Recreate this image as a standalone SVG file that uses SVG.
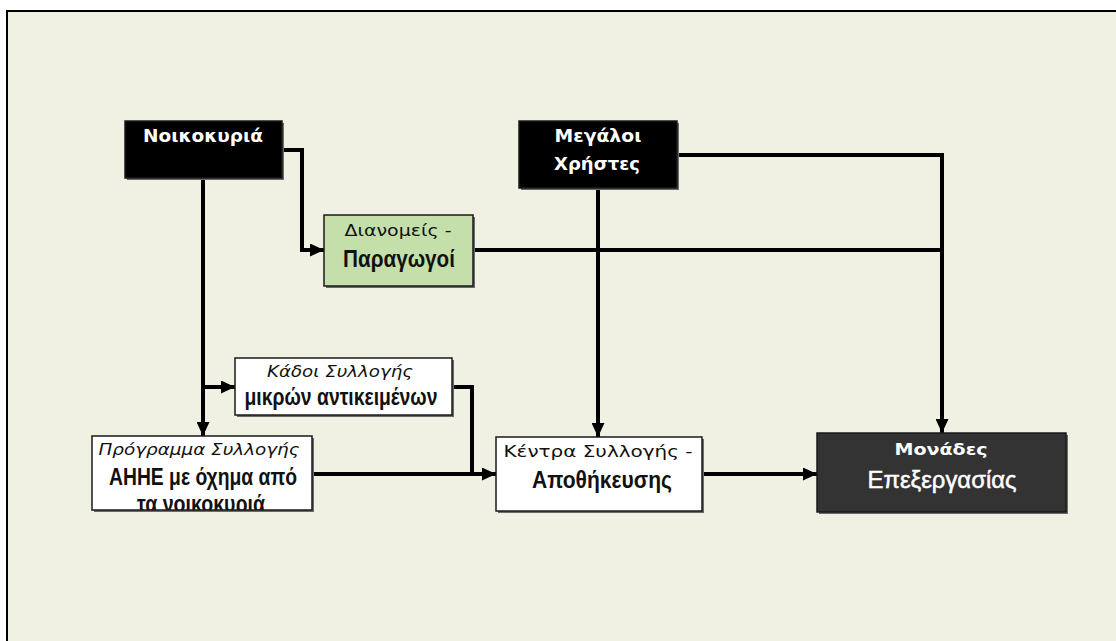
<svg xmlns="http://www.w3.org/2000/svg" width="1116" height="641" viewBox="0 0 1116 641">
  <style>
    .box { stroke: #1a1a1a; stroke-width: 1.5; }
    .shadow { fill: #6b6b6b; }
    .conn { fill: none; stroke: #000; stroke-width: 4; }
    .v { font-family: "DejaVu Sans", Verdana, sans-serif; }
    .a { font-family: "Liberation Sans", Arial, sans-serif; font-weight: bold; }
    .w { fill: #fff; }
    .k { fill: #111; }
  </style>
  <defs>
    <marker id="arr" markerUnits="userSpaceOnUse" markerWidth="14" markerHeight="13" refX="14" refY="6.5" orient="auto">
      <path d="M0,0 L14,6.5 L0,13 Z" fill="#000"/>
    </marker>
    <clipPath id="clipProg"><rect x="92" y="436" width="220" height="74"/></clipPath>
  </defs>

  <rect x="0" y="0" width="1116" height="641" fill="#ffffff"/>
  <rect x="7" y="11" width="1130" height="650" fill="#F1F1E3" stroke="#000" stroke-width="2"/>

  <g id="connectors">
    <path class="conn" d="M282,150 H302 V250 H324" marker-end="url(#arr)"/>
    <path class="conn" d="M203,178 V436" marker-end="url(#arr)"/>
    <path class="conn" d="M203,387 H235" marker-end="url(#arr)"/>
    <path class="conn" d="M452,387 H472 V474"/>
    <path class="conn" d="M312,474 H496" marker-end="url(#arr)"/>
    <path class="conn" d="M598,188 V437" marker-end="url(#arr)"/>
    <path class="conn" d="M677,155 H942 V433" marker-end="url(#arr)"/>
    <path class="conn" d="M473,250 H942"/>
    <path class="conn" d="M702,474 H817" marker-end="url(#arr)"/>
  </g>

  <g id="noikokyria">
    <rect class="shadow" x="127" y="123" width="157" height="57"/>
    <rect class="box" x="125" y="121" width="157" height="57" fill="#000"/>
    <text class="v w" x="203" y="142" font-size="17" font-weight="bold" text-anchor="middle" textLength="120" lengthAdjust="spacingAndGlyphs">Νοικοκυριά</text>
  </g>

  <g id="megaloi">
    <rect class="shadow" x="521" y="123" width="158" height="67"/>
    <rect class="box" x="519" y="121" width="158" height="67" fill="#000"/>
    <text class="v w" x="598" y="142" font-size="17" font-weight="bold" text-anchor="middle" textLength="87" lengthAdjust="spacingAndGlyphs">Μεγάλοι</text>
    <text class="v w" x="597" y="170" font-size="17" font-weight="bold" text-anchor="middle" textLength="86" lengthAdjust="spacingAndGlyphs">Χρήστες</text>
  </g>

  <g id="dianomeis">
    <rect class="shadow" x="326" y="217" width="149" height="71"/>
    <rect class="box" x="324" y="215" width="149" height="71" fill="#C4DFAA"/>
    <text class="v k" x="398" y="236" font-size="15" text-anchor="middle" textLength="107" lengthAdjust="spacingAndGlyphs">Διανομείς -</text>
    <text class="a k" x="399" y="267" font-size="24" text-anchor="middle" textLength="112" lengthAdjust="spacingAndGlyphs">Παραγωγοί</text>
  </g>

  <g id="kadoi">
    <rect class="shadow" x="237" y="360" width="217" height="57"/>
    <rect class="box" x="235" y="358" width="217" height="57" fill="#fff"/>
    <text class="v k" x="340" y="377" font-size="15" font-style="italic" text-anchor="middle" textLength="146" lengthAdjust="spacingAndGlyphs">Κάδοι Συλλογής</text>
    <text class="a k" x="341" y="405" font-size="23" text-anchor="middle" textLength="193" lengthAdjust="spacingAndGlyphs">μικρών αντικειμένων</text>
  </g>

  <g id="programma">
    <rect class="shadow" x="94" y="438" width="220" height="74"/>
    <rect x="92" y="436" width="220" height="74" fill="#fff"/>
    <g clip-path="url(#clipProg)">
      <text class="v k" x="199" y="455" font-size="15" font-style="italic" text-anchor="middle" textLength="201" lengthAdjust="spacingAndGlyphs">Πρόγραμμα Συλλογής</text>
      <text class="a k" x="203" y="485" font-size="23" text-anchor="middle" textLength="188" lengthAdjust="spacingAndGlyphs">ΑΗΗΕ με όχημα από</text>
      <text class="a k" x="201" y="512" font-size="23" text-anchor="middle" textLength="128" lengthAdjust="spacingAndGlyphs">τα νοικοκυριά</text>
    </g>
    <rect class="box" x="92" y="436" width="220" height="74" fill="none"/>
  </g>

  <g id="kentra">
    <rect class="shadow" x="498" y="439" width="206" height="74"/>
    <rect class="box" x="496" y="437" width="206" height="74" fill="#fff"/>
    <text class="v k" x="598" y="457" font-size="15" text-anchor="middle" textLength="189" lengthAdjust="spacingAndGlyphs">Κέντρα Συλλογής -</text>
    <text class="a k" x="602" y="488" font-size="23" text-anchor="middle" textLength="140" lengthAdjust="spacingAndGlyphs">Αποθήκευσης</text>
  </g>

  <g id="monades">
    <rect class="shadow" x="819" y="435" width="249" height="79"/>
    <rect class="box" x="817" y="433" width="249" height="79" fill="#333333"/>
    <text class="v w" x="941" y="455" font-size="16" font-weight="bold" text-anchor="middle" textLength="93" lengthAdjust="spacingAndGlyphs">Μονάδες</text>
    <text class="w" x="942" y="488" font-size="24" font-family="Liberation Sans, Arial, sans-serif" stroke="#fff" stroke-width="0.5" text-anchor="middle" textLength="149" lengthAdjust="spacingAndGlyphs">Επεξεργασίας</text>
  </g>
</svg>
